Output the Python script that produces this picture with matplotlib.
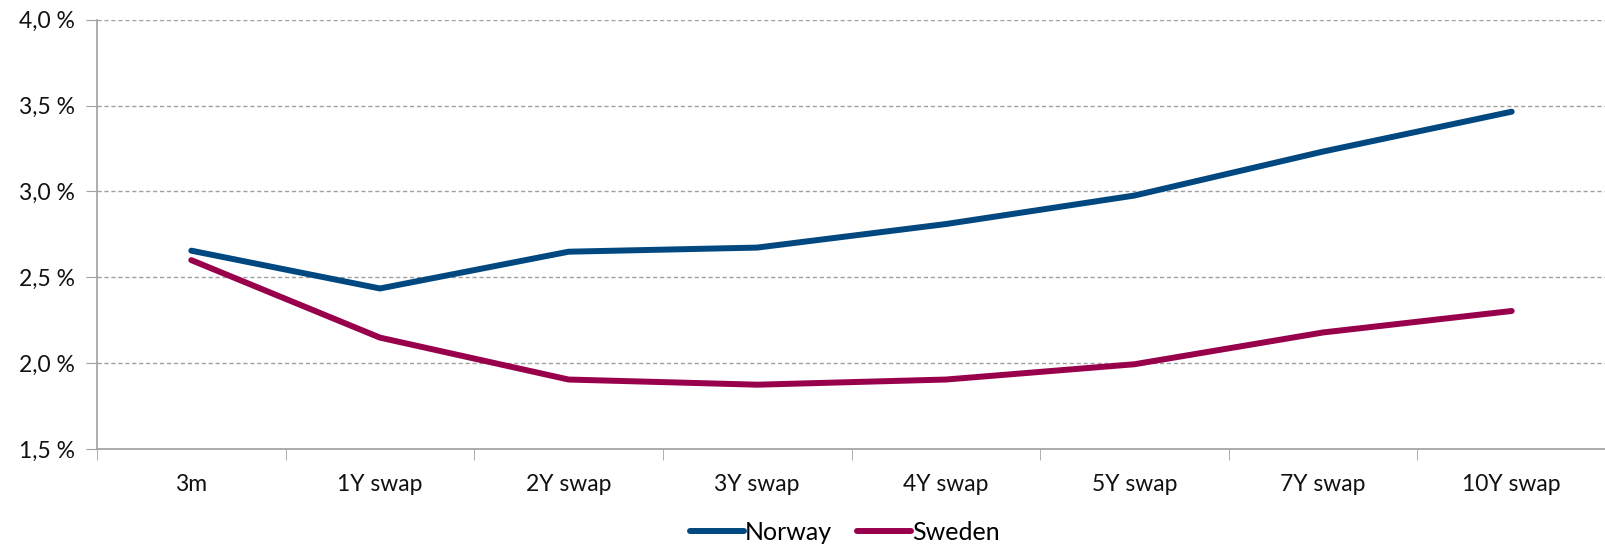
import matplotlib.pyplot as plt
from matplotlib.ticker import FixedLocator, FuncFormatter
import numpy as np

# Swap curve data (percent)
tenors = ['3m', '1Y swap', '2Y swap', '3Y swap', '4Y swap', '5Y swap', '7Y swap', '10Y swap']
norway = [2.655, 2.435, 2.649, 2.673, 2.81, 2.976, 3.232, 3.464]
sweden = [2.60, 2.149, 1.905, 1.875, 1.905, 1.994, 2.179, 2.304]
y_ticks = [1.5, 2.0, 2.5, 3.0, 3.5, 4.0]

plt.rcParams['font.family'] = ['Lato', 'DejaVu Sans']

fig = plt.figure(figsize=(16.06, 5.6), dpi=100)
ax = fig.add_axes([0.0604, 0.198, 0.9396, 0.767])

x = np.arange(len(tenors))
ax.plot(x, norway, color='#00487f', lw=4.3, solid_capstyle='round', label='Norway')
ax.plot(x, sweden, color='#99004c', lw=4.3, solid_capstyle='round', label='Sweden')

ax.set_xlim(-0.5, len(tenors) - 0.5)
ax.set_ylim(1.5, 4.0)
ax.set_yticks(y_ticks)
ax.yaxis.set_major_formatter(FuncFormatter(lambda v, p: f"{v:.1f} %".replace('.', ',')))
ax.yaxis.grid(True, linestyle=(0, (3, 2)), color='#a0a0a0', lw=1)
ax.set_axisbelow(True)

ax.set_xticks(x)
ax.set_xticklabels(tenors)
ax.xaxis.set_minor_locator(FixedLocator(np.arange(-0.5, len(tenors), 1.0)))
ax.tick_params(axis='x', which='major', length=0, pad=18, labelsize=16.5, colors='#111111')
ax.tick_params(axis='x', which='minor', length=8, color='#a0a0a0', direction='out')
ax.tick_params(axis='y', length=8, color='#a0a0a0', labelsize=16.5, pad=8, labelcolor='#111111')

for s in ['top', 'right']:
    ax.spines[s].set_visible(False)
for s in ['left', 'bottom']:
    ax.spines[s].set_color('#a0a0a0')
    ax.spines[s].set_linewidth(1.2)

fig.legend(loc='lower center', bbox_to_anchor=(0.526, -0.012), ncol=2, frameon=False,
           fontsize=18, handlelength=2.15, handletextpad=0.05, columnspacing=1.0)

fig.savefig('out.png', dpi=100)
